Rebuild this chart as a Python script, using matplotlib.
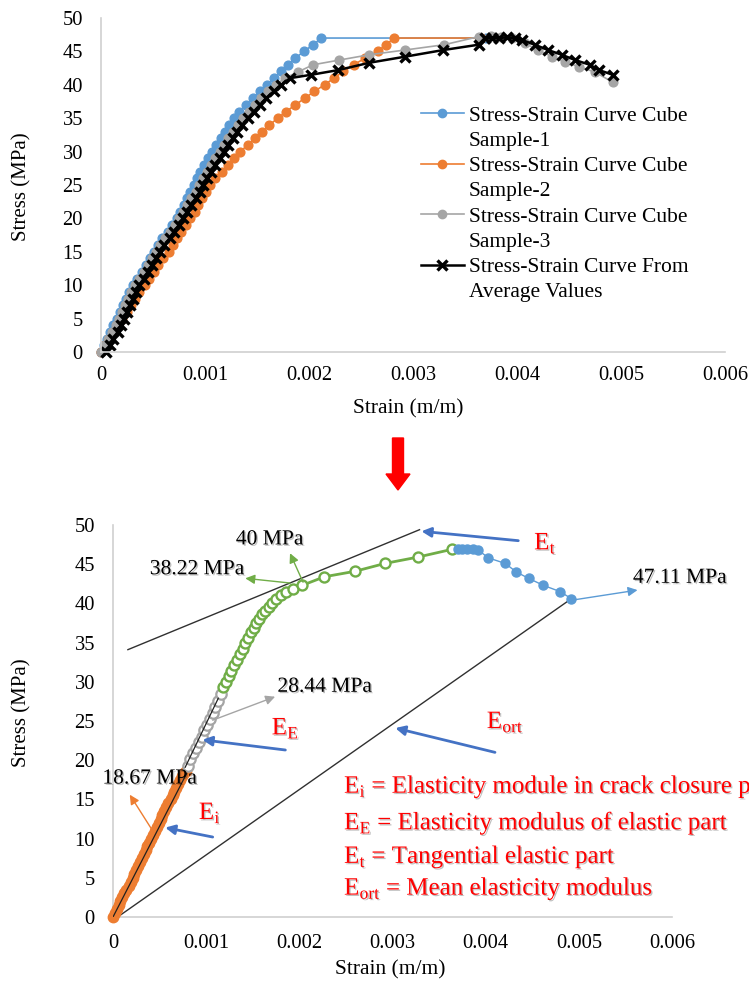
import numpy as np
import matplotlib
matplotlib.use("Agg")
import matplotlib.pyplot as plt
import matplotlib.patheffects as pe
from matplotlib.lines import Line2D
from matplotlib.patches import FancyArrow

plt.rcParams["font.family"] = ["Liberation Serif", "DejaVu Serif"]
plt.rcParams["mathtext.fontset"] = "custom"
plt.rcParams["mathtext.rm"] = "Liberation Serif"

C_BLUE = "#5B9BD5"
C_ORANGE = "#ED7D31"
C_GRAY = "#A5A5A5"
C_GREEN = "#70AD47"
C_ARROW = "#4472C4"
C_AXIS = "#D0D0D0"

# ---- top chart data (strain in 1e-3 m/m, stress in MPa) ----
s1_strain = [0.00, 0.03, 0.06, 0.09, 0.12, 0.15, 0.18, 0.21, 0.24, 0.27, 0.31, 0.35, 0.39, 0.43,
             0.47, 0.51, 0.55, 0.59, 0.64, 0.68, 0.73, 0.76, 0.80, 0.83, 0.86, 0.89, 0.92, 0.95,
             0.99, 1.03, 1.07, 1.11, 1.15, 1.19, 1.23, 1.28, 1.33, 1.39, 1.46, 1.53, 1.60, 1.66,
             1.73, 1.80, 1.87, 1.95, 2.04, 2.12, 3.70]
s1_stress = [0, 1, 2, 3, 4, 5, 6, 7, 8, 9, 10, 11, 12, 13, 14, 15, 16, 17, 18, 19, 20, 21, 22, 23,
             24, 25, 26, 27, 28, 29, 30, 31, 32, 33, 34, 35, 36, 37, 38, 39, 40, 41, 42, 43, 44,
             45, 46, 47, 47]

s2_strain = [0.00, 0.04, 0.08, 0.12, 0.16, 0.20, 0.25, 0.29, 0.33, 0.37, 0.42, 0.46, 0.51, 0.55,
             0.60, 0.65, 0.69, 0.73, 0.77, 0.82, 0.86, 0.90, 0.93, 0.97, 1.01, 1.05, 1.10, 1.16,
             1.22, 1.28, 1.34, 1.41, 1.48, 1.55, 1.62, 1.70, 1.78, 1.87, 1.96, 2.05, 2.15, 2.24,
             2.33, 2.43, 2.54, 2.66, 2.74, 2.82, 3.65]
s2_stress = [0, 1, 2, 3, 4, 5, 6, 7, 8, 9, 10, 11, 12, 13, 14, 15, 16, 17, 18, 19, 20, 21, 22, 23,
             24, 25, 26, 27, 28, 29, 30, 31, 32, 33, 34, 35, 36, 37, 38, 39, 40, 41, 42, 43, 44,
             45, 46, 47, 47]

s3_strain = [0.00, 0.04, 0.07, 0.11, 0.14, 0.17, 0.20, 0.23, 0.26, 0.29, 0.33, 0.37, 0.41, 0.45,
             0.49, 0.53, 0.57, 0.62, 0.66, 0.71, 0.75, 0.79, 0.83, 0.87, 0.91, 0.94, 0.98, 1.02,
             1.06, 1.10, 1.14, 1.18, 1.22, 1.27, 1.32, 1.37, 1.42, 1.48, 1.54, 1.61, 1.68, 1.77,
             1.89, 2.04, 2.29, 2.58, 2.92, 3.30, 3.63, 3.75, 3.85, 3.95, 4.08, 4.20, 4.34, 4.46,
             4.60, 4.75, 4.92]
s3_stress = [0, 1, 2, 3, 4, 5, 6, 7, 8, 9, 10, 11, 12, 13, 14, 15, 16, 17, 18, 19, 20, 21, 22, 23,
             24, 25, 26, 27, 28, 29, 30, 31, 32, 33, 34, 35, 36, 37, 38, 39, 40, 41,
             41.9, 43.0, 43.7, 44.5, 45.2, 46.0, 47.2, 47.3, 47.2, 47.0, 46.2, 45.2, 44.2, 43.4,
             42.7, 41.9, 40.4]

avg_strain = [0.05, 0.09, 0.12, 0.16, 0.19, 0.22, 0.25, 0.28, 0.31, 0.34, 0.37, 0.41, 0.45, 0.49,
              0.53, 0.57, 0.61, 0.66, 0.70, 0.75, 0.79, 0.83, 0.87, 0.91, 0.95, 0.98, 1.02, 1.06,
              1.10, 1.14, 1.18, 1.22, 1.27, 1.31, 1.36, 1.41, 1.47, 1.53, 1.59, 1.66, 1.73, 1.82,
              2.02, 2.28, 2.58, 2.92, 3.29, 3.63, 3.69, 3.76, 3.83, 3.90, 3.98, 4.05, 4.17, 4.30,
              4.43, 4.56, 4.70, 4.79, 4.92]
avg_stress = [0, 1, 2, 3, 4, 5, 6, 7, 8, 9, 10, 11, 12, 13, 14, 15, 16, 17, 18, 19, 20, 21, 22,
              23, 24, 25, 26, 27, 28, 29, 30, 31, 32, 33, 34, 35, 36, 37, 38, 39, 40, 41,
              41.5, 42.2, 43.3, 44.2, 45.2, 46.0, 47.0, 47.0, 47.0, 47.1, 47.0, 46.7, 46.0, 45.2,
              44.5, 43.7, 43.0, 42.2, 41.5]

legend_labels = ["Stress-Strain Curve Cube\nSample-1", "Stress-Strain Curve Cube\nSample-2",
                 "Stress-Strain Curve Cube\nSample-3", "Stress-Strain Curve From\nAverage Values"]

# ---- bottom chart data (average curve split into regions) ----
b_orange_strain = [0.00, 0.02, 0.04, 0.06, 0.08, 0.10, 0.12, 0.14, 0.17, 0.19, 0.21, 0.23, 0.25,
                   0.27, 0.29, 0.31, 0.33, 0.35, 0.37, 0.39, 0.41, 0.43, 0.45, 0.47, 0.49, 0.51,
                   0.53, 0.55, 0.57, 0.59, 0.62, 0.64, 0.66, 0.68, 0.70, 0.72, 0.74, 0.76, 0.78]
b_orange_stress = [0.0, 0.5, 1.0, 1.5, 2.0, 2.5, 3.0, 3.5, 4.0, 4.5, 5.0, 5.5, 6.0, 6.5, 7.0, 7.5,
                   8.0, 8.5, 9.0, 9.5, 10.0, 10.5, 11.0, 11.5, 12.0, 12.5, 13.0, 13.5, 14.0, 14.5,
                   15.0, 15.5, 16.0, 16.5, 17.0, 17.5, 18.0, 18.4, 18.67]

b_gray_strain = [0.80, 0.83, 0.86, 0.89, 0.92, 0.95, 0.98, 1.01, 1.04, 1.07, 1.10, 1.13, 1.16]
b_gray_stress = [19.3, 20.1, 20.9, 21.6, 22.3, 23.0, 23.8, 24.5, 25.2, 26.0, 26.8, 27.6, 28.44]

b_green_strain = [1.18, 1.21, 1.24, 1.27, 1.30, 1.33, 1.36, 1.39, 1.42, 1.45, 1.48, 1.51, 1.54,
                  1.57, 1.60, 1.63, 1.67, 1.71, 1.75, 1.80, 1.86, 1.93, 2.03, 2.27, 2.60, 2.92,
                  3.27, 3.64]
b_green_stress = [29.3, 30.0, 30.7, 31.4, 32.1, 32.8, 33.5, 34.2, 34.9, 35.6, 36.3, 36.9, 37.5,
                  38.0, 38.6, 39.0, 39.6, 40.1, 40.6, 41.1, 41.5, 41.9, 42.3, 43.4, 44.1, 45.1,
                  45.9, 46.9]

b_blue_strain = [3.70, 3.75, 3.80, 3.86, 3.92, 4.03, 4.21, 4.33, 4.46, 4.62, 4.80, 4.92]
b_blue_stress = [47.0, 47.0, 46.9, 46.9, 46.8, 45.8, 45.1, 44.0, 43.2, 42.3, 41.5, 40.6]

# modulus lines (strain 1e-3, stress MPa)
ei_line = ([0.0, 0.79], [0.0, 18.3])
ee_line = ([0.775, 1.13], [19.1, 27.9])
et_line = ([0.16, 3.29], [34.1, 49.4])
eort_line = ([0.05, 4.92], [0.0, 40.6])

key_text = [r"E$_\mathregular{i}$ = Elasticity module in crack closure part",
            r"E$_\mathregular{E}$ = Elasticity modulus of elastic part",
            r"E$_\mathregular{t}$ = Tangential elastic part",
            r"E$_\mathregular{ort}$ = Mean elasticity modulus"]

x_ticks = [0, 0.001, 0.002, 0.003, 0.004, 0.005, 0.006]
x_ticklabels = ["0", "0.001", "0.002", "0.003", "0.004", "0.005", "0.006"]
y_ticks = [0, 5, 10, 15, 20, 25, 30, 35, 40, 45, 50]


def e3(v):
    return np.array(v) / 1000.0


def style_axes(ax):
    ax.set_xlim(0, 0.006)
    ax.set_ylim(0, 50)
    ax.set_xticks(x_ticks)
    ax.set_xticklabels(x_ticklabels)
    ax.set_yticks(y_ticks)
    for s in ["top", "right"]:
        ax.spines[s].set_visible(False)
    for s in ["left", "bottom"]:
        ax.spines[s].set_color(C_AXIS)
        ax.spines[s].set_linewidth(1.2)
    ax.tick_params(length=0, labelsize=14.8, colors="black")
    ax.tick_params(axis="y", pad=13)
    ax.tick_params(axis="x", pad=10)


shadow = [pe.SimplePatchShadow(offset=(1, -1), shadow_rgbFace="#000000", alpha=0.25), pe.Normal()]

fig = plt.figure(figsize=(7.49, 9.88), dpi=100)

# ---------------- top chart ----------------
ax1 = fig.add_axes([101 / 749, 1 - 352 / 988, 624 / 749, 334 / 988])
style_axes(ax1)
ax1.plot(e3(s1_strain), s1_stress, color=C_BLUE, lw=1.2, marker="o", ms=6.3, mec=C_BLUE, clip_on=False)
ax1.plot(e3(s2_strain), s2_stress, color=C_ORANGE, lw=1.2, marker="o", ms=6.3, mec=C_ORANGE, clip_on=False)
ax1.plot(e3(s3_strain), s3_stress, color=C_GRAY, lw=1.2, marker="o", ms=6.3, mec=C_GRAY, clip_on=False)
ax1.plot(e3(avg_strain), avg_stress, color="black", lw=1.8, marker="x", ms=7, mew=2.4, clip_on=False)

handles = []
labels = []
styles = [(C_BLUE, "o", 1.2, 6, 1), (C_ORANGE, "o", 1.2, 6, 1), (C_GRAY, "o", 1.2, 6, 1),
          ("black", "x", 1.8, 7, 2.4)]
for (c, m, lw, ms, mew), lab in zip(styles, legend_labels):
    first, second = lab.split("\n")
    handles.append(Line2D([], [], color=c, lw=lw, marker=m, ms=ms, mew=mew, mec=c))
    labels.append(first)
    handles.append(Line2D([], [], linestyle="none"))
    labels.append(second)
ax1.legend(handles, labels, loc="upper left", bbox_to_anchor=(0.495, 0.77), frameon=False,
           fontsize=15.5, handlelength=2.0, handletextpad=0.25, labelspacing=0.24, borderpad=0)

fig.text(22 / 749, 1 - 187 / 988, "Stress (MPa)", rotation=90, ha="center", va="center", fontsize=15)
fig.text(408 / 749, 1 - 409 / 988, "Strain (m/m)", ha="center", va="center", fontsize=15.5)

# red arrow between charts
fig.add_artist(FancyArrow(398 / 749, 1 - 438 / 988, 0, -52 / 988, width=11 / 749,
                          head_width=24 / 749, head_length=16 / 988, length_includes_head=True,
                          color="#FF0000", transform=fig.transFigure))

# ---------------- bottom chart ----------------
ax2 = fig.add_axes([113 / 749, 1 - 917 / 988, 559 / 749, 392 / 988])
style_axes(ax2)
ax2.tick_params(axis="x", pad=12)

ax2.plot(e3(eort_line[0]), eort_line[1], color="#303030", lw=1.0, zorder=2)
ax2.plot(e3(et_line[0]), et_line[1], color="#303030", lw=1.0, zorder=2)
ax2.plot(e3(b_orange_strain), b_orange_stress, color=C_ORANGE, lw=2, marker="o", ms=7.5,
         mec=C_ORANGE, clip_on=False, zorder=3)
ax2.plot(e3(b_gray_strain), b_gray_stress, color=C_GRAY, lw=1.2, marker="o", ms=7.5, mfc="white",
         mec=C_GRAY, mew=1.6, zorder=3)
ax2.plot(e3(b_green_strain), b_green_stress, color=C_GREEN, lw=2, marker="o", ms=7.2, mfc="white",
         mec=C_GREEN, mew=1.7, zorder=3)
ax2.plot(e3(b_blue_strain), b_blue_stress, color=C_BLUE, lw=1, marker="o", ms=6.5, mec=C_BLUE, zorder=3)
ax2.plot(e3(ei_line[0]), ei_line[1], color="#202020", lw=0.9, zorder=4)
ax2.plot(e3(ee_line[0]), ee_line[1], color="#202020", lw=0.9, zorder=4)


def arrow(ax, tail, tip, color, lw):
    ax.annotate("", xy=(tip[0] / 1000, tip[1]), xytext=(tail[0] / 1000, tail[1]),
                arrowprops=dict(arrowstyle="-|>", color=color, lw=lw, mutation_scale=14,
                                shrinkA=0, shrinkB=0), zorder=5)


def label(ax, x, y, s, color="black", size=15.5, ha="center"):
    ax.text(x / 1000, y, s, color=color, fontsize=size, ha=ha, va="center",
            path_effects=shadow, zorder=6, clip_on=False)


arrow(ax2, (2.04, 42.7), (1.90, 46.4), C_GREEN, 1.0)
arrow(ax2, (1.90, 42.6), (1.42, 43.2), C_GREEN, 1.0)
arrow(ax2, (1.07, 25.1), (1.74, 28.1), C_GRAY, 1.0)
arrow(ax2, (0.42, 11.1), (0.18, 15.6), C_ORANGE, 1.0)
arrow(ax2, (4.92, 40.4), (5.63, 41.7), C_BLUE, 1.0)
arrow(ax2, (4.35, 48.0), (3.31, 49.2), C_ARROW, 2.0)
arrow(ax2, (4.10, 21.0), (3.03, 24.1), C_ARROW, 2.0)
arrow(ax2, (1.85, 21.3), (0.96, 22.6), C_ARROW, 2.0)
arrow(ax2, (1.07, 10.2), (0.56, 11.4), C_ARROW, 2.0)

label(ax2, 1.68, 48.1, "40 MPa")
label(ax2, 0.90, 44.3, "38.22 MPa")
label(ax2, 2.27, 29.3, "28.44 MPa")
label(ax2, 0.39, 17.6, "18.67 MPa")
label(ax2, 6.08, 43.2, "47.11 MPa")

red_size = 18
label(ax2, 4.64, 47.7, r"E$_\mathregular{t}$", color="#FF0000", size=red_size)
label(ax2, 4.21, 24.9, r"E$_\mathregular{ort}$", color="#FF0000", size=red_size)
label(ax2, 1.85, 24.1, r"E$_\mathregular{E}$", color="#FF0000", size=red_size)
label(ax2, 1.04, 13.3, r"E$_\mathregular{i}$", color="#FF0000", size=red_size)

# key text runs past the right edge, as in the source figure
for t, yv in zip(key_text, [16.6, 12.0, 7.65, 3.6]):
    label(ax2, 2.48, yv, t, color="#FF0000", size=red_size, ha="left")

fig.text(22 / 749, 1 - 713 / 988, "Stress (MPa)", rotation=90, ha="center", va="center", fontsize=15)
fig.text(390 / 749, 1 - 970 / 988, "Strain (m/m)", ha="center", va="center", fontsize=15.5)

fig.savefig("out.png", dpi=100)
